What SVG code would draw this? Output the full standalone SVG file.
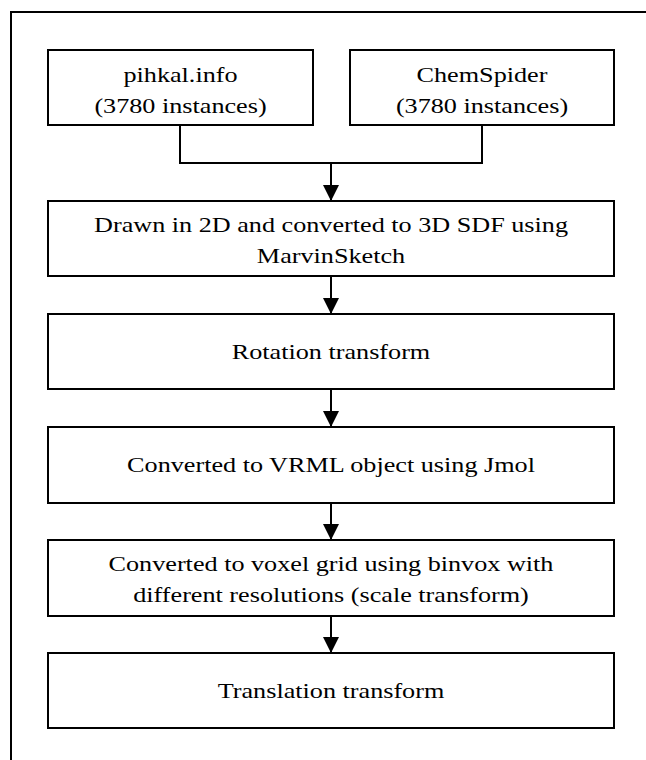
<svg xmlns="http://www.w3.org/2000/svg" width="646" height="760" viewBox="0 0 646 760">
  <style>
    .box { fill: #ffffff; stroke: #000000; stroke-width: 2; }
    .conn { fill: none; stroke: #000000; stroke-width: 2; }
    .lbl { font-size: 22px; fill: #000000; text-anchor: middle; }
  </style>
  <defs>
    <marker id="arrow" markerUnits="userSpaceOnUse" markerWidth="16" markerHeight="18" refX="16" refY="8" orient="auto">
      <path d="M0,0 L16,8 L0,16 Z" fill="#000000"/>
    </marker>
  </defs>
  <rect x="0" y="0" width="646" height="760" fill="#ffffff"/>
  <rect id="frame" x="11" y="12" width="700" height="800" fill="none" stroke="#000000" stroke-width="2"/>

  <g id="connectors">
    <path class="conn" d="M180,125 V163 H482 V125"/>
    <path class="conn" d="M331,163 V201" marker-end="url(#arrow)"/>
    <path class="conn" d="M331,276 V314" marker-end="url(#arrow)"/>
    <path class="conn" d="M331,389 V427" marker-end="url(#arrow)"/>
    <path class="conn" d="M331,503 V540" marker-end="url(#arrow)"/>
    <path class="conn" d="M331,616 V653" marker-end="url(#arrow)"/>
  </g>

  <g font-family="Liberation Serif, Times New Roman, DejaVu Serif, serif">
  <g id="pihkal">
    <rect class="box" x="48" y="50" width="265" height="75"/>
    <text class="lbl" transform="translate(180.5,82) scale(1.19,1)" x="0" y="0">pihkal.info</text>
    <text class="lbl" transform="translate(180.5,113) scale(1.19,1)" x="0" y="0">(3780 instances)</text>
  </g>

  <g id="chemspider">
    <rect class="box" x="350" y="50" width="264" height="75"/>
    <text class="lbl" transform="translate(482,82) scale(1.19,1)" x="0" y="0">ChemSpider</text>
    <text class="lbl" transform="translate(482,113) scale(1.19,1)" x="0" y="0">(3780 instances)</text>
  </g>

  <g id="drawn">
    <rect class="box" x="48" y="201" width="566" height="75"/>
    <text class="lbl" transform="translate(331,232) scale(1.19,1)" x="0" y="0">Drawn in 2D and converted to 3D SDF using</text>
    <text class="lbl" transform="translate(331,263) scale(1.19,1)" x="0" y="0">MarvinSketch</text>
  </g>

  <g id="rotation">
    <rect class="box" x="48" y="314" width="566" height="75"/>
    <text class="lbl" transform="translate(331,359) scale(1.19,1)" x="0" y="0">Rotation transform</text>
  </g>

  <g id="vrml">
    <rect class="box" x="48" y="427" width="566" height="76"/>
    <text class="lbl" transform="translate(331,472) scale(1.19,1)" x="0" y="0">Converted to VRML object using Jmol</text>
  </g>

  <g id="voxel">
    <rect class="box" x="48" y="540" width="566" height="76"/>
    <text class="lbl" transform="translate(331,571) scale(1.19,1)" x="0" y="0">Converted to voxel grid using binvox with</text>
    <text class="lbl" transform="translate(331,602) scale(1.19,1)" x="0" y="0">different resolutions (scale transform)</text>
  </g>

  <g id="translation">
    <rect class="box" x="48" y="653" width="566" height="75"/>
    <text class="lbl" transform="translate(331,698) scale(1.19,1)" x="0" y="0">Translation transform</text>
  </g>
  </g>
</svg>
